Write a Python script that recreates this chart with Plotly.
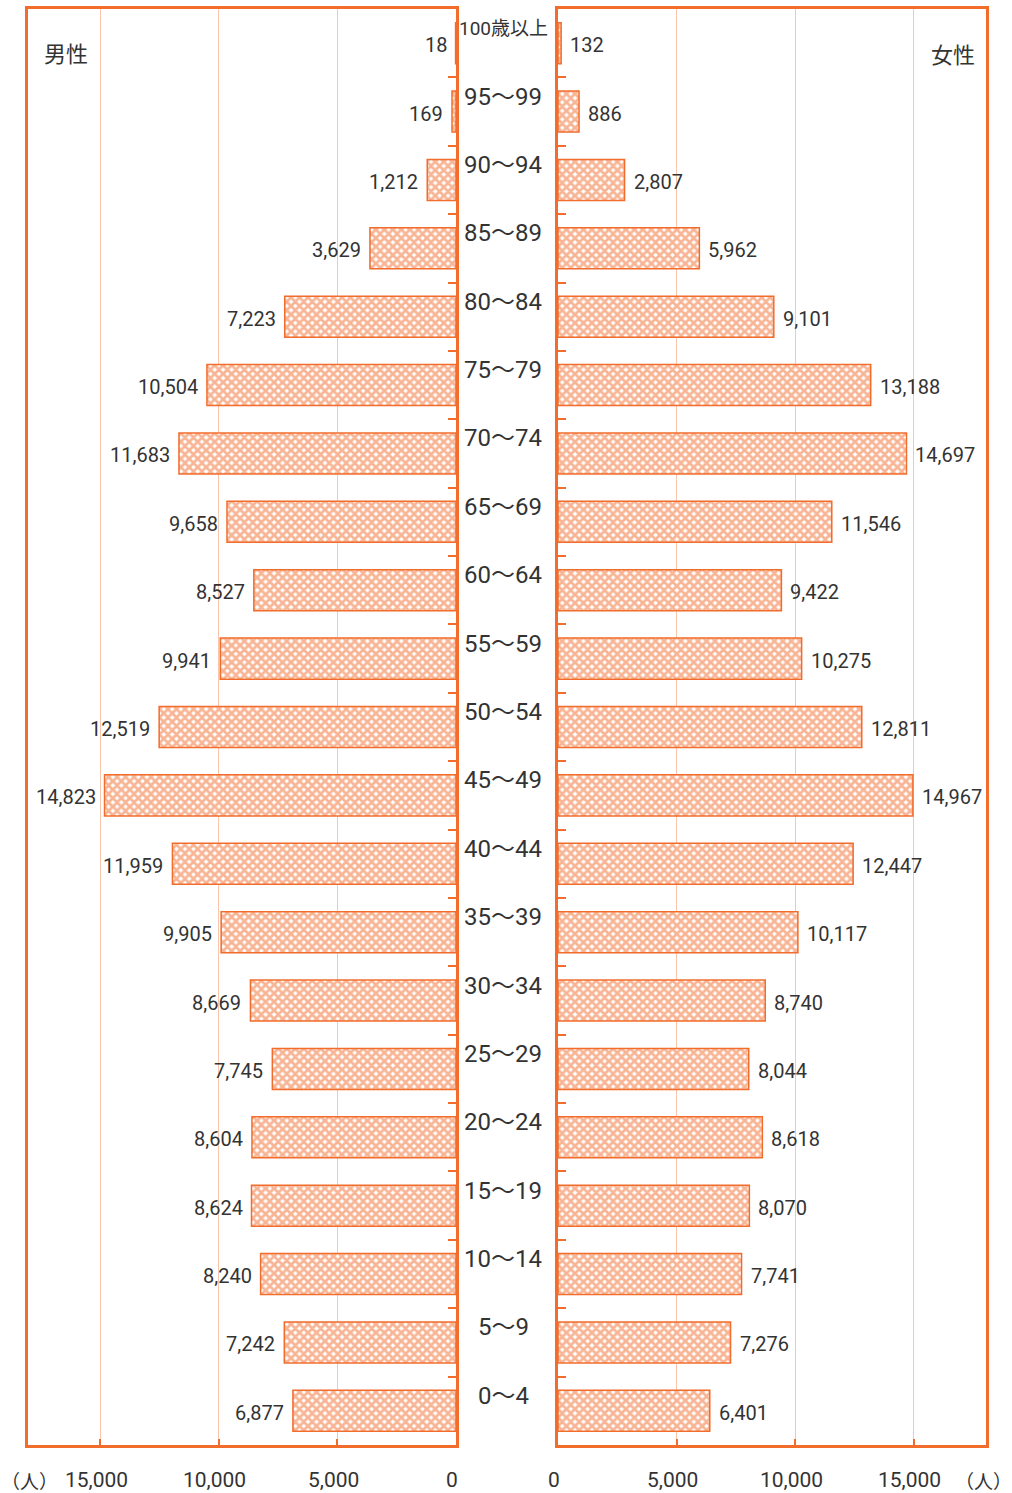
import plotly.graph_objects as go

# Age groups from youngest to oldest
ages = ["0〜4", "5〜9", "10〜14", "15〜19", "20〜24", "25〜29", "30〜34",
        "35〜39", "40〜44", "45〜49", "50〜54", "55〜59", "60〜64", "65〜69",
        "70〜74", "75〜79", "80〜84", "85〜89", "90〜94", "95〜99", "100歳以上"]
male = [6877, 7242, 8240, 8624, 8604, 7745, 8669, 9905, 11959, 14823, 12519,
        9941, 8527, 9658, 11683, 10504, 7223, 3629, 1212, 169, 18]
female = [6401, 7276, 7741, 8070, 8618, 8044, 8740, 10117, 12447, 14967, 12811,
          10275, 9422, 11546, 14697, 13188, 9101, 5962, 2807, 886, 132]
tick_vals = [0, 5000, 10000, 15000]
tick_text = ["0", "5,000", "10,000", "15,000"]

W, H = 1012, 1493
ORANGE = "#F26C2C"
GRID = "#F8C6AC"
TEXT = "#333333"
FONT = "Roboto, Noto Sans CJK JP, sans-serif"
CJK = "Noto Sans CJK JP, sans-serif"
XMAX = 18050

pos = list(range(len(ages)))


def px_x(p):
    return p / W


def px_y(p):
    return 1 - p / H


bar_style = dict(
    color="white",
    line=dict(color=ORANGE, width=1.5),
    pattern=dict(shape="x", fgcolor=ORANGE, bgcolor="white", size=6, solidity=0.72),
)

fig = go.Figure()
fig.add_trace(go.Bar(x=male, y=pos, orientation="h", marker=bar_style,
                     xaxis="x", yaxis="y", hoverinfo="skip", showlegend=False))
fig.add_trace(go.Bar(x=female, y=pos, orientation="h", marker=bar_style,
                     xaxis="x2", yaxis="y2", hoverinfo="skip", showlegend=False))

ydom = [px_y(1445), px_y(9)]
common_x = dict(
    tickvals=tick_vals, ticks="inside", ticklen=6, showticklabels=False,
    tickwidth=2, tickcolor=ORANGE, showgrid=True, gridcolor=GRID, gridwidth=1,
    showline=True, linecolor=ORANGE, linewidth=2.5, mirror=True,
    zeroline=False, automargin=False, fixedrange=True,
)
common_y = dict(
    range=[-0.5, len(ages) - 0.5], tickvals=[i + 0.5 for i in pos[:-1]],
    ticks="inside", ticklen=8, tickwidth=2, tickcolor=ORANGE,
    showticklabels=False, showgrid=False, showline=True, linecolor=ORANGE,
    linewidth=2.5, mirror=True, zeroline=False, domain=ydom, fixedrange=True,
    automargin=False,
)

fig.update_layout(
    width=W, height=H,
    margin=dict(l=0, r=0, t=0, b=0, pad=0, autoexpand=False),
    paper_bgcolor="white", plot_bgcolor="white",
    bargap=0.4,
    font=dict(family=FONT, color=TEXT),
    xaxis=dict(domain=[px_x(28), px_x(456)], range=[XMAX, 0], anchor="y", **common_x),
    yaxis=dict(anchor="x", side="right", **common_y),
    xaxis2=dict(domain=[px_x(558), px_x(986)], range=[0, XMAX], anchor="y2", **common_x),
    yaxis2=dict(anchor="x2", side="left", **common_y),
)

ann = []
# value labels next to each bar
for i, v in enumerate(male):
    ann.append(dict(x=v, y=i, xref="x", yref="y", text=f"{v:,}", showarrow=False,
                    xanchor="right", yanchor="middle", xshift=-7, yshift=-2,
                    font=dict(family=FONT, size=20, color=TEXT)))
for i, v in enumerate(female):
    ann.append(dict(x=v, y=i, xref="x2", yref="y2", text=f"{v:,}", showarrow=False,
                    xanchor="left", yanchor="middle", xshift=7, yshift=-2,
                    font=dict(family=FONT, size=20, color=TEXT)))
# age group labels in the centre column
for i, a in enumerate(ages):
    size = 19 if "歳" in a else 24
    ann.append(dict(x=px_x(503), y=i, xref="paper", yref="y", text=a,
                    showarrow=False, xanchor="center", yanchor="middle", yshift=15,
                    font=dict(family=FONT, size=size, color=TEXT)))
# scale labels under both panels
for xr in ("x", "x2"):
    for tv, tt in zip(tick_vals, tick_text):
        ann.append(dict(x=tv, y=px_y(1480), xref=xr, yref="paper", text=tt,
                        showarrow=False, xanchor="center", yanchor="middle",
                        xshift=-4, font=dict(family=FONT, size=21, color=TEXT)))
# panel titles and units
ann += [
    dict(x=px_x(66), y=px_y(52), xref="paper", yref="paper", text="男性",
         showarrow=False, xanchor="center", yanchor="middle",
         font=dict(family=CJK, size=22, color=TEXT)),
    dict(x=px_x(953), y=px_y(53), xref="paper", yref="paper", text="女性",
         showarrow=False, xanchor="center", yanchor="middle",
         font=dict(family=CJK, size=22, color=TEXT)),
    dict(x=px_x(29), y=px_y(1480), xref="paper", yref="paper", text="（人）",
         showarrow=False, xanchor="center", yanchor="middle",
         font=dict(family=CJK, size=19, color=TEXT)),
    dict(x=px_x(983), y=px_y(1480), xref="paper", yref="paper", text="（人）",
         showarrow=False, xanchor="center", yanchor="middle",
         font=dict(family=CJK, size=19, color=TEXT)),
]
fig.update_layout(annotations=ann)

fig.write_html("out.html")
